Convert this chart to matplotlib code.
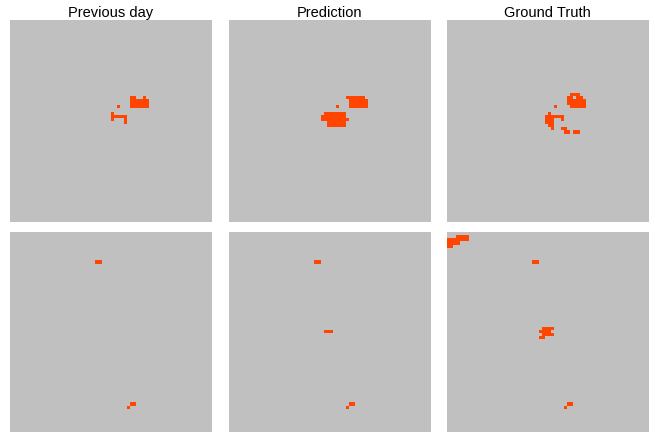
import numpy as np
import matplotlib
matplotlib.use("Agg")
import matplotlib.pyplot as plt
from matplotlib.colors import ListedColormap

plt.rcParams['font.family'] = ['Liberation Sans', 'DejaVu Sans']

GRID = 64
titles = ["Previous day", "Prediction", "Ground Truth"]

# fire cells as (row, first col, last col) runs on the 64x64 grid
prev_top = [(24, 38, 39), (24, 42, 42), (25, 38, 43), (26, 38, 43), (27, 38, 43),
            (27, 34, 34),
            (29, 32, 32), (30, 32, 36), (31, 32, 32), (31, 36, 36), (32, 36, 36)]
pred_top = [(24, 37, 42), (25, 38, 43), (26, 38, 43), (27, 38, 43),
            (27, 34, 34),
            (29, 30, 36), (30, 29, 36), (31, 29, 37), (32, 31, 36), (33, 31, 36)]
true_top = [(23, 39, 41), (24, 38, 39), (24, 41, 42), (25, 38, 43), (26, 38, 43), (27, 39, 43),
            (27, 34, 34),
            (29, 32, 32), (30, 31, 36), (31, 31, 33), (31, 36, 36), (32, 31, 33),
            (33, 32, 33), (34, 33, 33),
            (34, 36, 37), (35, 37, 38), (35, 40, 41)]

prev_bot = [(9, 27, 28), (54, 38, 39), (55, 37, 37)]
pred_bot = [(9, 27, 28), (31, 30, 32), (54, 38, 39), (55, 37, 37)]
true_bot = [(1, 3, 6), (2, 0, 6), (3, 0, 3), (4, 0, 1),
            (9, 27, 28),
            (30, 30, 33), (31, 29, 32), (32, 30, 33), (33, 29, 30),
            (54, 38, 39), (55, 37, 37)]

rows = [[prev_top, pred_top, true_top], [prev_bot, pred_bot, true_bot]]


def to_mask(runs):
    m = np.zeros((GRID, GRID))
    for r, c0, c1 in runs:
        m[r, c0:c1 + 1] = 1
    return m


cmap = ListedColormap(['#c0c0c0', '#ff4500'])

fig = plt.figure(figsize=(6.55, 4.32), dpi=100)
W, H = 655, 432
lefts = [10, 228.5, 446.5]
tops = [20, 232.3]
size = 202

for i in range(2):
    for j in range(3):
        ax = fig.add_axes([lefts[j] / W, (H - tops[i] - size) / H, size / W, size / H])
        ax.imshow(to_mask(rows[i][j]), cmap=cmap, vmin=0, vmax=1,
                  interpolation='nearest', aspect='auto')
        ax.axis('off')
        if i == 0:
            ax.set_title(titles[j], fontsize=10.5, pad=1.5)

fig.savefig("out.png", dpi=100)
